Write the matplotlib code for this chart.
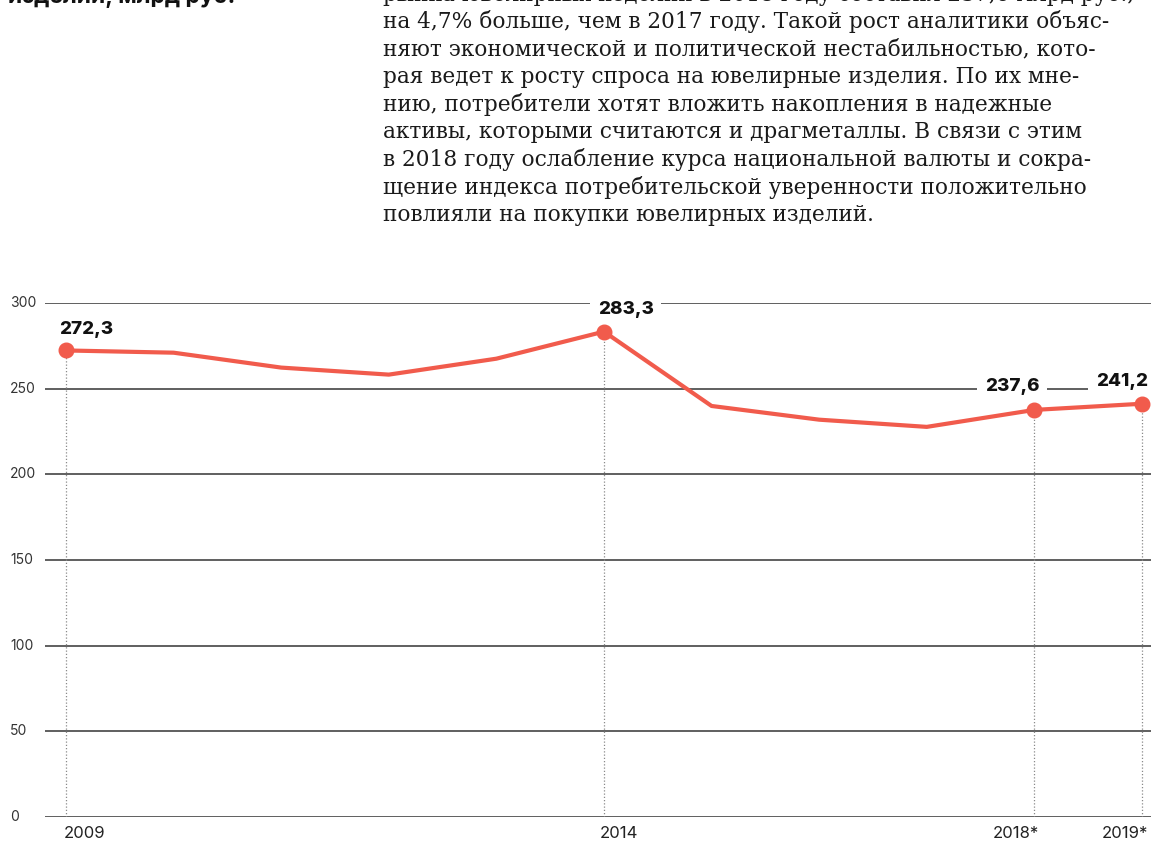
import matplotlib
matplotlib.use("Agg")
import matplotlib.pyplot as plt
from matplotlib.transforms import blended_transform_factory

plt.rcParams["font.family"] = ["Inter", "DejaVu Sans"]

years = [2009, 2010, 2011, 2012, 2013, 2014, 2015, 2016, 2017, 2018, 2019]
values = [272.3, 271.0, 262.3, 258.2, 267.5, 283.3, 239.9, 231.9, 227.7, 237.6, 241.2]

labelYears = [2009, 2014, 2018, 2019]
labelValues = [272.3, 283.3, 237.6, 241.2]
valueTexts = ["272,3", "283,3", "237,6", "241,2"]
yearTexts = ["2009", "2014", "2018*", "2019*"]
yTicks = [0, 50, 100, 150, 200, 250, 300]

bodyLines = [
    "рынка ювелирных изделий в 2018 году составил 237,6 млрд руб.,",
    "на 4,7% больше, чем в 2017 году. Такой рост аналитики объяс-",
    "няют экономической и политической нестабильностью, кото-",
    "рая ведет к росту спроса на ювелирные изделия. По их мне-",
    "нию, потребители хотят вложить накопления в надежные",
    "активы, которыми считаются и драгметаллы. В связи с этим",
    "в 2018 году ослабление курса национальной валюты и сокра-",
    "щение индекса потребительской уверенности положительно",
    "повлияли на покупки ювелирных изделий.",
]

red = "#f15b4c"
W, H = 1151, 844

fig = plt.figure(figsize=(W / 100, H / 100), dpi=100)
ax = fig.add_axes([45 / W, (H - 817) / H, (W - 45) / W, (817 - 303) / H])
ax.set_xlim(2008.805, 2019.084)
ax.set_ylim(0, 300)
ax.axis("off")

# header text, cut off by the top edge like in the source
fig.text(8 / W, 1 + 4 / H, "изделий, млрд руб.", fontsize=16.5, fontweight="bold",
         va="center", ha="left", color="#111111")
for i, line in enumerate(bodyLines):
    y = -5.9 + i * 27.6
    fig.text(383 / W, 1 - y / H, line, family=["DejaVu Serif"],
             fontsize=15.6, va="center", ha="left", color="#1a1a1a")

for v in yTicks:
    ax.axhline(v, color="#444444", lw=1.2, zorder=1)

labelTrans = blended_transform_factory(fig.transFigure, ax.transData)
for v in yTicks:
    ax.text(10 / W, v, str(v), transform=labelTrans, ha="left", va="center",
            fontsize=10, color="#333333")

ax.vlines(labelYears, 0, labelValues, colors="#8a8a8a", linestyles=(0, (1, 1.6)),
          lw=0.9, zorder=2)

ax.plot(years, values, color=red, lw=3, zorder=4, clip_on=False)
ax.plot(labelYears, labelValues, "o", color=red, ms=10.5, zorder=7, clip_on=False)

offsets = [(-7, 21, "left"), (-6, 22, "left"), (5, 23, "right"), (6, 22, "right")]
for yr, val, txt, (dx, dy, ha) in zip(labelYears, labelValues, valueTexts, offsets):
    ax.annotate(txt, xy=(yr, val), xytext=(dx, dy), textcoords="offset pixels",
                ha=ha, va="center", fontsize=13.5, fontweight=800, color="#111111",
                zorder=6, annotation_clip=False,
                bbox=dict(boxstyle="square,pad=0.4", fc="white", ec="none"))

tickOffsets = [(-2, "left"), (-4, "left"), (5, "right"), (6, "right")]
for yr, txt, (dx, ha) in zip(labelYears, yearTexts, tickOffsets):
    ax.annotate(txt, xy=(yr, 0), xycoords=("data", "axes fraction"), xytext=(dx, -16),
                textcoords="offset pixels", ha=ha, va="center", fontsize=12,
                color="#222222", annotation_clip=False)

fig.savefig("out.png", dpi=100)
